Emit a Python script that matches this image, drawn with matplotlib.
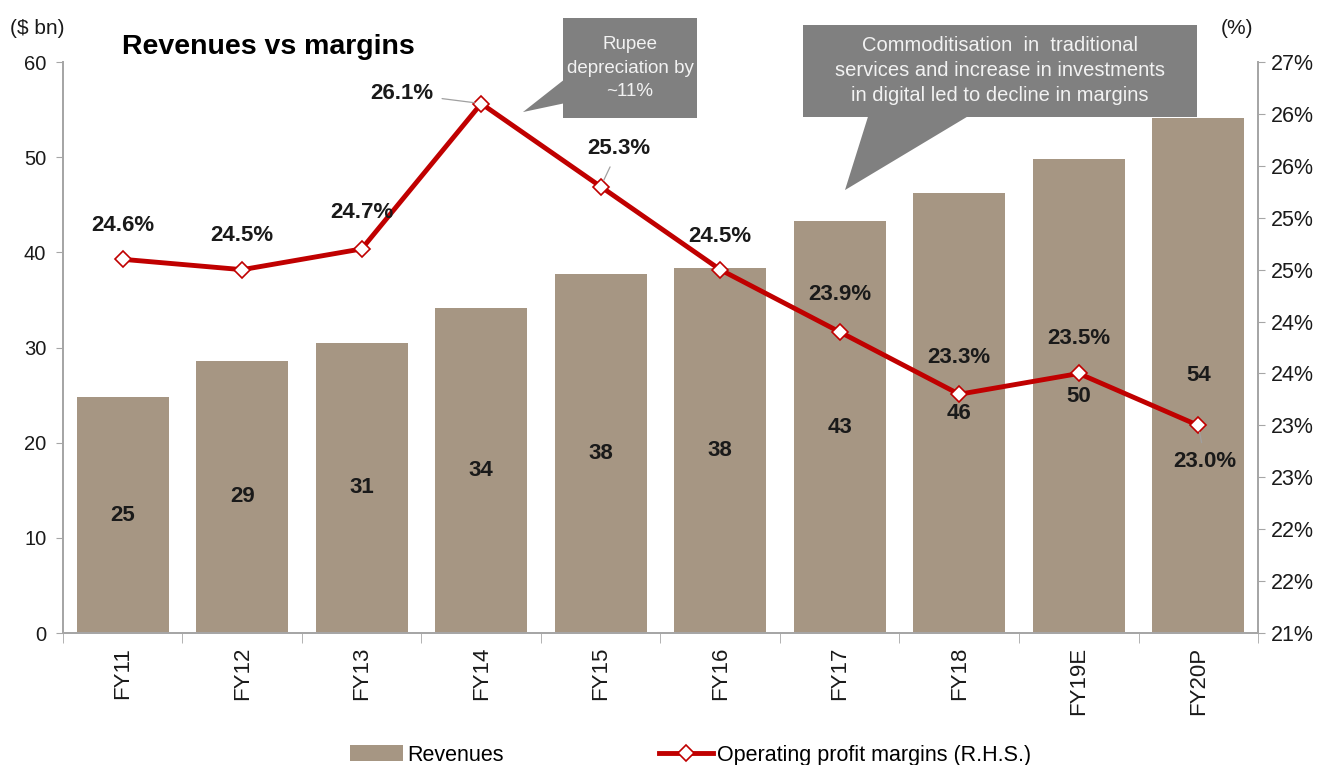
import numpy as np
import matplotlib
matplotlib.use("Agg")
import matplotlib.pyplot as plt
from matplotlib.patches import Rectangle, Polygon

plt.rcParams["font.family"] = ["Liberation Sans", "DejaVu Sans"]

# data
years = ["FY11", "FY12", "FY13", "FY14", "FY15", "FY16", "FY17", "FY18", "FY19E", "FY20P"]
revenues = [24.8, 28.6, 30.5, 34.2, 37.7, 38.4, 43.3, 46.2, 49.8, 54.1]
revenue_labels = ["25", "29", "31", "34", "38", "38", "43", "46", "50", "54"]
margins = [24.6, 24.5, 24.7, 26.1, 25.3, 24.5, 23.9, 23.3, 23.5, 23.0]

BAR_COLOR = "#a69683"
LINE_COLOR = "#c00000"
AXIS_GRAY = "#a6a6a6"
BOX_GRAY = "#808080"
TEXT = "#1a1a1a"

fig = plt.figure(figsize=(13.28, 7.65), dpi=100)
ax = fig.add_axes([0.0474, 0.1725, 0.8999, 0.7464])
ax2 = ax.twinx()

x = np.arange(len(years))
bars = ax.bar(x, revenues, 0.77, color=BAR_COLOR, label="Revenues", zorder=2)
for xi, v, lab in zip(x, revenues, revenue_labels):
    ax.text(xi, v / 2, lab, ha="center", va="center", fontsize=16, fontweight="bold", color=TEXT, zorder=3)

ax.set_xlim(-0.5, len(years) - 0.5)
ax.set_ylim(0, 60)
ax.set_yticks(np.arange(0, 61, 10))
ax.set_xticks(x)
ax.set_xticklabels(years, rotation=90, fontsize=16, color=TEXT)
ax.set_xticks(np.arange(-0.5, len(years), 1), minor=True)
ax.tick_params(axis="x", which="major", length=0, pad=10)
ax.tick_params(axis="x", which="minor", length=7, color=AXIS_GRAY, direction="out")
ax.tick_params(axis="y", length=5, color=AXIS_GRAY, labelsize=14.5, labelcolor=TEXT, pad=7)

for a in (ax, ax2):
    a.spines["top"].set_visible(False)
    for s in ("left", "right", "bottom"):
        a.spines[s].set_color(AXIS_GRAY)
        a.spines[s].set_linewidth(1.3)

# margins line on right axis
line, = ax2.plot(x, margins, color=LINE_COLOR, lw=3.5, marker="D", markersize=8,
                 markerfacecolor="white", markeredgecolor=LINE_COLOR, markeredgewidth=1.2,
                 label="Operating profit margins (R.H.S.)", zorder=5)
ax2.set_ylim(21, 26.5)
rticks = np.arange(21, 26.51, 0.5)
ax2.set_yticks(rticks)
ax2.set_yticklabels([f"{int(np.floor(v + 0.5))}%" for v in rticks])
ax2.tick_params(axis="y", length=5, color=AXIS_GRAY, labelsize=15.5, labelcolor=TEXT, pad=4)

# margin data labels (offsets in pixels)
offsets = [(0, 34), (0, 34), (0, 36), (-79, 10), (18, 38), (0, 33), (0, 37), (0, 37), (0, 35), (7, -36)]
leaders = [False, False, False, True, True, False, False, False, False, True]
for xi, m, off, lead in zip(x, margins, offsets, leaders):
    props = dict(arrowstyle="-", color="#a0a0a0", lw=0.9, shrinkA=4, shrinkB=5) if lead else None
    ax2.annotate(f"{m:.1f}%", (xi, m), xytext=off, textcoords="offset pixels",
                 ha="center", va="center", fontsize=16, fontweight="bold", color=TEXT,
                 arrowprops=props, zorder=6)

# callouts
ax.add_patch(Rectangle((0.4184, 0.9019), 0.1121, 0.1751, transform=ax.transAxes,
                       facecolor=BOX_GRAY, edgecolor="none", clip_on=False, zorder=4))
ax.add_patch(Polygon([(0.4200, 0.9702), (0.3849, 0.9124), (0.4200, 0.9280)], closed=True,
                     transform=ax.transAxes, facecolor=BOX_GRAY, edgecolor="none", clip_on=False, zorder=4))
ax.text(0.4745, 0.9895, "Rupee\ndepreciation by\n~11%", transform=ax.transAxes, ha="center", va="center",
        fontsize=13.5, color="#f2f2f2", linespacing=1.5, zorder=5)

ax.add_patch(Rectangle((0.6192, 0.9037), 0.3298, 0.1611, transform=ax.transAxes,
                       facecolor=BOX_GRAY, edgecolor="none", clip_on=False, zorder=4))
ax.add_patch(Polygon([(0.6736, 0.9040), (0.6544, 0.7758), (0.7565, 0.9040)], closed=True,
                     transform=ax.transAxes, facecolor=BOX_GRAY, edgecolor="none", clip_on=False, zorder=4))
ax.text(0.7841, 0.9860, "Commoditisation  in  traditional\nservices and increase in investments\nin digital led to decline in margins",
        transform=ax.transAxes, ha="center", va="center", fontsize=14.5, color="#f2f2f2",
        linespacing=1.4, zorder=5)

# titles and axis units
fig.text(0.0919, 0.938, "Revenues vs margins", fontsize=20.5, fontweight="bold", color="black", va="center")
fig.text(0.0075, 0.963, "($ bn)", fontsize=15, color=TEXT, va="center")
fig.text(0.919, 0.963, "(%)", fontsize=15, color=TEXT, va="center")

fig.legend(handles=[bars, line], loc="lower center", bbox_to_anchor=(0.52, -0.026), ncol=2,
           frameon=False, fontsize=15.5, handlelength=2.5, handletextpad=0.2, columnspacing=7.2)

fig.savefig("out.png", dpi=100)
